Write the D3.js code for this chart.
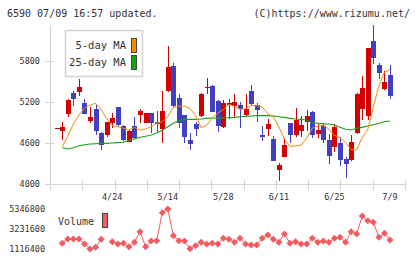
<!DOCTYPE html>
<html>
<head>
<meta charset="utf-8">
<script src="https://cdn.jsdelivr.net/npm/d3@7"></script>
<style>
html, body { margin: 0; padding: 0; background: #fff; }
svg { display: block; }
text { font-family: "DejaVu Sans Mono", monospace; fill: #333; }
</style>
</head>
<body>
<div id="chart"></div>
<script>
// Datos del grafico
var openP  = [4815,4780,5019,5336,5351,5180,4927,5097,4746,4717,4887,5122,4849,4619,4849,5005,4897,5034,4907,4805,5361,5727,5253,5009,4644,4878,4995,5405,5434,5219,4829,5161,5141,5156,5005,5361,5156,4712,4809,4653,4205,4400,4888,4717,4780,4912,5048,4731,4849,4644,4546,4605,4366,4351,4741,5102,4995,6092,5741,5385,5595];
var highP  = [4815,4912,5239,5361,5531,5239,5131,5156,4766,4912,5034,5131,4863,4790,4975,5102,5044,5034,5068,5361,6019,5766,5317,5009,4741,4912,5331,5546,5448,5229,5229,5239,5317,5205,5317,5448,5180,4849,4951,4702,4302,4668,4897,5107,4995,5083,5068,4897,4897,4731,4878,4692,4400,4717,5327,5580,5995,6326,5775,5658,5741];
var lowP   = [4815,4644,4975,5146,5287,5024,4897,4717,4497,4692,4814,4839,4634,4619,4668,4888,4888,4751,4751,4605,5351,5131,4814,4605,4497,4702,4985,5312,5048,4766,4814,4946,4985,4814,4975,5160,4912,4634,4702,4341,4048,4390,4605,4683,4683,4780,4668,4668,4605,4292,4473,4263,4083,4341,4736,4936,4936,5756,5531,5375,5239];
var closeP = [4815,4839,5229,5248,5424,5029,4980,4780,4570,4902,4961,4863,4644,4775,4678,5068,5034,4888,4883,5068,5717,5141,4897,4692,4585,4809,5317,5419,5058,4853,5180,5180,5195,5092,5102,5170,5083,4692,4878,4341,4278,4570,4717,4936,4863,4995,4717,4790,4644,4409,4829,4351,4292,4614,5317,5405,5995,5839,5629,5497,5287];
var ma5  = [null,4546,4700,4880,5010,5111,5154,5182,5092,4957,4852,4839,4815,4788,4829,4784,4806,4840,4889,4910,4988,5118,5139,5141,5103,5006,4825,4860,4964,5038,5091,5165,5138,5093,5100,5150,5148,5128,5028,4985,4833,4654,4552,4557,4568,4673,4816,4846,4860,4802,4711,4678,4605,4505,4499,4681,4796,5125,5434,5637,5673];
var ma25 = [null,4531,4512,4531,4561,4575,4585,4590,4595,4595,4600,4605,4610,4640,4660,4683,4700,4717,4745,4785,4839,4888,4927,4946,4946,4946,4951,4961,4966,4966,4966,4970,4975,4985,4990,4995,5000,5000,5000,4995,4985,4975,4961,4951,4946,4936,4900,4890,4880,4878,4863,4829,4800,4790,4815,4829,4849,4868,4888,4912,4922];
var volume = [null,1719000,2174000,2174000,2174000,1645000,1116400,1292000,2140000,null,1889000,1645000,1719000,1360000,1825000,2946000,1360000,1963000,1994000,4956000,5346800,2523000,1994000,1963000,1150000,1468000,1825000,1645000,1719000,1645000,2248000,2140000,1825000,2248000,1645000,1540000,1540000,2248000,2597000,2140000,1825000,2703000,1719000,1889000,1645000,1645000,2248000,1825000,1963000,1825000,2248000,2354000,1825000,2946000,2703000,4606000,4110000,3940000,2354000,2777000,2068000];
var dateLabels = ["4/24","5/14","5/28","6/11","6/25","7/9"];
var dateIndex  = [10,20,30,40,50,60];
var priceTicks = [4000,4600,5200,5800];
var volTicks   = [1116400,3231600,5346800];

var W = 420, H = 259;
var colUp = "#d40000", colDown = "#4040c0";
var colMa5 = "#f08c00", colMa25 = "#18a018", colVol = "#f55a5f", colGrid = "#d2d2d2";

var svg = d3.select("#chart").append("svg")
    .attr("width", W)
    .attr("height", H);

var x = d3.scaleLinear().domain([0, openP.length - 1]).range([56.7, 390]);
var y = d3.scaleLinear().domain([4000, 5800]).range([184, 61]);
var yv = d3.scaleLinear().domain([1116400, 5346800]).range([249, 209]);
var gridX = d3.scaleLinear().domain([0, 11]).range([50, 405]);

// Titulos
svg.append("text")
    .attr("x", 7).attr("y", 17)
    .style("font-size", "10px")
    .text("6590 07/09 16:57 updated.");
svg.append("text")
    .attr("x", 410).attr("y", 17)
    .attr("text-anchor", "end")
    .style("font-size", "10px")
    .text("(C)https://www.rizumu.net/");

// Ejes y rejilla
var axes = svg.append("g").attr("shape-rendering", "crispEdges").attr("stroke", colGrid);
axes.append("line").attr("x1", 50.5).attr("x2", 50.5).attr("y1", 26).attr("y2", 190);
axes.append("line").attr("x1", 45).attr("x2", 405).attr("y1", y(4000) + 0.5).attr("y2", y(4000) + 0.5);
axes.selectAll(".ytick")
    .data(priceTicks)
    .enter().append("line")
    .attr("x1", 45).attr("x2", 54)
    .attr("y1", function(d) { return Math.round(y(d)) + 0.5; })
    .attr("y2", function(d) { return Math.round(y(d)) + 0.5; });
axes.selectAll(".xtick")
    .data(d3.range(1, 12))
    .enter().append("line")
    .attr("x1", function(d) { return Math.round(gridX(d)) + 0.5; })
    .attr("x2", function(d) { return Math.round(gridX(d)) + 0.5; })
    .attr("y1", 180).attr("y2", 190);

svg.selectAll(".plabel")
    .data(priceTicks)
    .enter().append("text")
    .attr("x", 40)
    .attr("y", function(d) { return y(d); })
    .attr("text-anchor", "end")
    .attr("dominant-baseline", "middle")
    .style("font-size", "8.5px")
    .text(function(d) { return d; });

svg.selectAll(".dlabel")
    .data(dateLabels)
    .enter().append("text")
    .attr("x", function(d, i) { return x(dateIndex[i]); })
    .attr("y", 197)
    .attr("text-anchor", "middle")
    .attr("dominant-baseline", "middle")
    .style("font-size", "8.5px")
    .text(function(d) { return d; });

svg.selectAll(".vlabel")
    .data(volTicks)
    .enter().append("text")
    .attr("x", 45)
    .attr("y", function(d) { return yv(d); })
    .attr("text-anchor", "end")
    .attr("dominant-baseline", "middle")
    .style("font-size", "8.5px")
    .text(function(d) { return d; });

// Velas
var idx = d3.range(openP.length);
var candles = svg.append("g").attr("shape-rendering", "crispEdges");
candles.selectAll(".wick")
    .data(idx)
    .enter().append("line")
    .attr("x1", function(i) { return Math.round(x(i)) + 0.5; })
    .attr("x2", function(i) { return Math.round(x(i)) + 0.5; })
    .attr("y1", function(i) { return y(highP[i]); })
    .attr("y2", function(i) { return y(lowP[i]); })
    .attr("stroke", function(i) { return closeP[i] >= openP[i] ? colUp : colDown; });
candles.selectAll(".body")
    .data(idx)
    .enter().append("rect")
    .attr("x", function(i) { return Math.round(x(i)) - 2; })
    .attr("width", 5)
    .attr("y", function(i) { return y(Math.max(openP[i], closeP[i])); })
    .attr("height", function(i) { return Math.max(1, Math.abs(y(openP[i]) - y(closeP[i]))); })
    .attr("fill", function(i) { return closeP[i] >= openP[i] ? colUp : colDown; });

// Medias moviles
function maLine(arr) {
    return d3.line()
        .defined(function(i) { return arr[i] != null; })
        .x(function(i) { return x(i); })
        .y(function(i) { return y(arr[i]); });
}
svg.append("path").datum(idx)
    .attr("d", maLine(ma25))
    .attr("fill", "none").attr("stroke", colMa25).attr("stroke-width", 1.1);
svg.append("path").datum(idx)
    .attr("d", maLine(ma5))
    .attr("fill", "none").attr("stroke", colMa5).attr("stroke-width", 1);

// Leyenda
var leg = svg.append("g");
leg.append("rect")
    .attr("x", 65.5).attr("y", 30.5).attr("width", 77).attr("height", 46)
    .attr("fill", "#fff").attr("stroke", colGrid).attr("stroke-width", 1.5);
leg.append("text").attr("x", 126).attr("y", 46)
    .attr("text-anchor", "end").attr("dominant-baseline", "middle")
    .style("font-size", "10.5px").text("5-day MA");
leg.append("text").attr("x", 126).attr("y", 63)
    .attr("text-anchor", "end").attr("dominant-baseline", "middle")
    .style("font-size", "10.5px").text("25-day MA");
leg.append("rect").attr("x", 131.5).attr("y", 38.5).attr("width", 5).attr("height", 14)
    .attr("fill", colMa5).attr("stroke", "#444");
leg.append("rect").attr("x", 131.5).attr("y", 55.5).attr("width", 5).attr("height", 14)
    .attr("fill", colMa25).attr("stroke", "#444");

// Volumen
var vline = d3.line()
    .defined(function(i) { return volume[i] != null; })
    .x(function(i) { return x(i); })
    .y(function(i) { return yv(volume[i]); });
svg.append("path").datum(idx)
    .attr("d", vline)
    .attr("fill", "none").attr("stroke", colVol).attr("stroke-width", 1);
svg.selectAll(".vpt")
    .data(idx.filter(function(i) { return volume[i] != null; }))
    .enter().append("path")
    .attr("d", function(i) {
        var cx = x(i), cy = yv(volume[i]), r = 3.5;
        return "M" + cx + "," + (cy - r) + "L" + (cx + r) + "," + cy + "L" + cx + "," + (cy + r) + "L" + (cx - r) + "," + cy + "Z";
    })
    .attr("fill", colVol);

svg.append("text").attr("x", 94).attr("y", 221.5)
    .attr("text-anchor", "end").attr("dominant-baseline", "middle")
    .style("font-size", "10px").text("Volume");
svg.append("rect").attr("x", 102.5).attr("y", 213.5).attr("width", 5).attr("height", 14)
    .attr("fill", colVol).attr("stroke", "#444");
</script>
</body>
</html>
